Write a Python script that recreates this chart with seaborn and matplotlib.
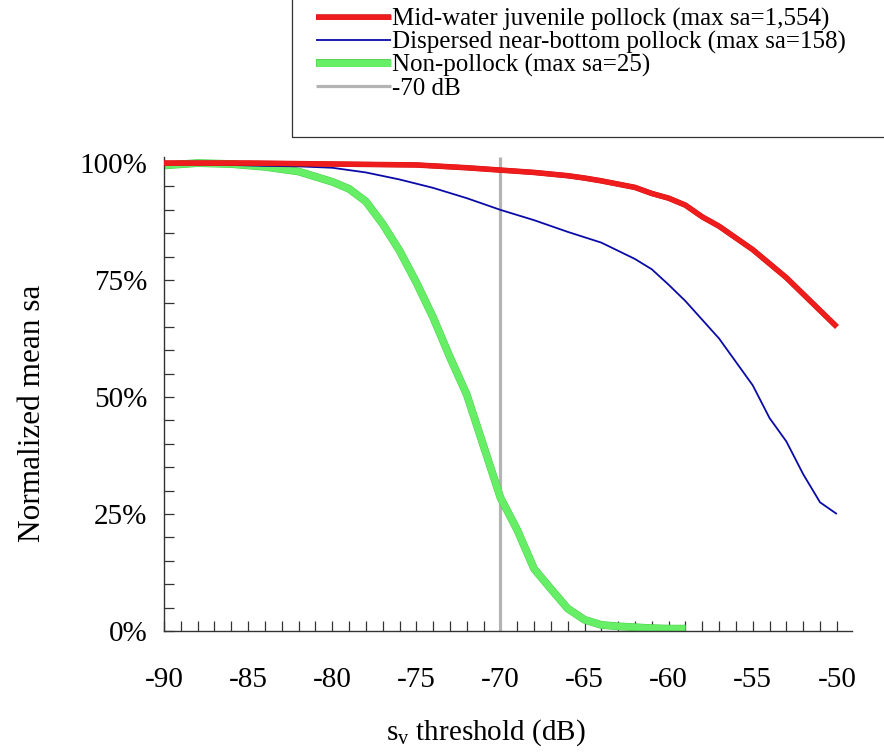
import numpy as np
import pandas as pd
import matplotlib
matplotlib.use("Agg")
import matplotlib.pyplot as plt
import seaborn as sns
from matplotlib.ticker import MultipleLocator, FuncFormatter
from matplotlib.patches import Rectangle
import matplotlib.patheffects as pe

# ---- data ----
red_x = [-90, -85, -80, -75, -72, -70, -68, -66, -65, -64, -62, -61, -60, -59, -58, -57, -56, -55, -54, -53, -52, -51, -50]
red_y = [100, 100, 99.8, 99.6, 99, 98.5, 98.0, 97.3, 96.8, 96.2, 94.8, 93.5, 92.5, 91, 88.5, 86.5, 84, 81.5, 78.5, 75.5, 72, 68.5, 65]

blue_x = [-90, -88, -86, -84, -82, -80, -78, -76, -74, -72, -70, -68, -66, -64, -62, -61, -60, -59, -58, -57, -56, -55, -54, -53, -52, -51, -50]
blue_y = [100, 100, 99.6, 99.4, 99.3, 99, 98, 96.5, 94.7, 92.5, 90, 87.8, 85.3, 83, 79.5, 77.3, 74, 70.5, 66.5, 62.5, 57.5, 52.5, 45.5, 40.5, 33.5, 27.5, 25]

green_x = [-90, -88, -86, -84, -82, -80, -79, -78, -77, -76, -75, -74, -73, -72, -71, -70, -69, -68, -67, -66, -65, -64, -63, -62, -61, -60, -59]
green_y = [99.5, 100, 99.8, 99.2, 98.2, 96, 94.5, 91.8, 87, 81.3, 74.5, 67, 58.5, 50.5, 39.5, 28.5, 21.6, 13.3, 9, 4.8, 2.4, 1.3, 1, 0.8, 0.6, 0.5, 0.5]

labels = ["Mid-water juvenile pollock (max sa=1,554)",
          "Dispersed near-bottom pollock (max sa=158)",
          "Non-pollock (max sa=25)",
          "-70 dB"]
threshold = -70
x_ticks = [-90, -85, -80, -75, -70, -65, -60, -55, -50]

sns.set_theme(style="white")
plt.rcParams['font.family'] = ['Liberation Serif', 'DejaVu Serif']
plt.rcParams['mathtext.fontset'] = 'custom'
plt.rcParams['mathtext.rm'] = 'Liberation Serif'
plt.rcParams['mathtext.it'] = 'Liberation Serif'
plt.rcParams['lines.solid_capstyle'] = 'butt'

W, H = 884, 755
fig = plt.figure(figsize=(W/100, H/100), dpi=100)
ax = fig.add_axes([164/W, 1-631/H, (852-164)/W, (631-157)/H])

df_r = pd.DataFrame({"x": red_x, "y": np.array(red_y)/100})
df_b = pd.DataFrame({"x": blue_x, "y": np.array(blue_y)/100})
df_g = pd.DataFrame({"x": green_x, "y": np.array(green_y)/100})

ax.axvline(threshold, color="#b4b4b4", lw=2.3, zorder=1, label=labels[3])
sns.lineplot(data=df_b, x="x", y="y", ax=ax, color="#0a0aa8", lw=1.3, zorder=3, label=labels[1])
sns.lineplot(data=df_r, x="x", y="y", ax=ax, color="#ee1c1c", lw=3.6, zorder=4, label=labels[0],
             path_effects=[pe.Stroke(linewidth=4.0, foreground="#d01010"), pe.Normal()])
sns.lineplot(data=df_g, x="x", y="y", ax=ax, color="#66ee66", lw=5.0, zorder=2, label=labels[2],
             path_effects=[pe.Stroke(linewidth=5.6, foreground="#44cc44"), pe.Normal()])

ax.set_xlim(-90, -49.1)
ax.set_ylim(0, 1.013)
for s in ["top", "right"]:
    ax.spines[s].set_visible(False)
for s in ["left", "bottom"]:
    ax.spines[s].set_color("#333333")
    ax.spines[s].set_linewidth(1.0)

ax.set_xticks(x_ticks)
ax.xaxis.set_minor_locator(MultipleLocator(1))
ax.yaxis.set_major_locator(MultipleLocator(0.25))
ax.yaxis.set_minor_locator(MultipleLocator(0.05))
ax.yaxis.set_major_formatter(FuncFormatter(lambda v, p: f"{v*100:.0f}%"))
ax.xaxis.set_major_formatter(FuncFormatter(lambda v, p: f"{v:.0f}"))
ax.tick_params(axis="both", which="both", direction="in", length=7, width=0.9, color="#333333")
ax.tick_params(axis="x", which="major", pad=26, labelsize=21, labelcolor="black")
ax.tick_params(axis="y", which="major", pad=12, labelsize=21, labelcolor="black")
ax.tick_params(bottom=True, left=True, which="both")

ax.set_xlabel(r"s$_{\mathrm{v}}$ threshold (dB)", fontsize=21, color="black")
ax.set_ylabel("Normalized mean sa", fontsize=22.5, color="black")
ax.xaxis.set_label_coords((486-164)/688, -(717-631)/474)
ax.yaxis.set_label_coords((47-164)/688, (631-413)/474)

hmap = dict(zip(*ax.get_legend_handles_labels()[::-1]))
if ax.get_legend():
    ax.get_legend().remove()
leg = fig.legend([hmap[l] for l in labels], labels, loc="upper left",
                 bbox_to_anchor=(316/W, 1-8/H), frameon=False,
                 fontsize=18, handlelength=3.0, handletextpad=0.05, labelspacing=0.0,
                 borderpad=0, borderaxespad=0)
for t in leg.get_texts():
    t.set_color("black")
fig.patches.append(Rectangle((292/W, 1-137/H), 1.0, 0.3, transform=fig.transFigure,
                             fill=False, edgecolor="#333333", lw=0.9))

fig.savefig("out.png", dpi=100, facecolor="white")
